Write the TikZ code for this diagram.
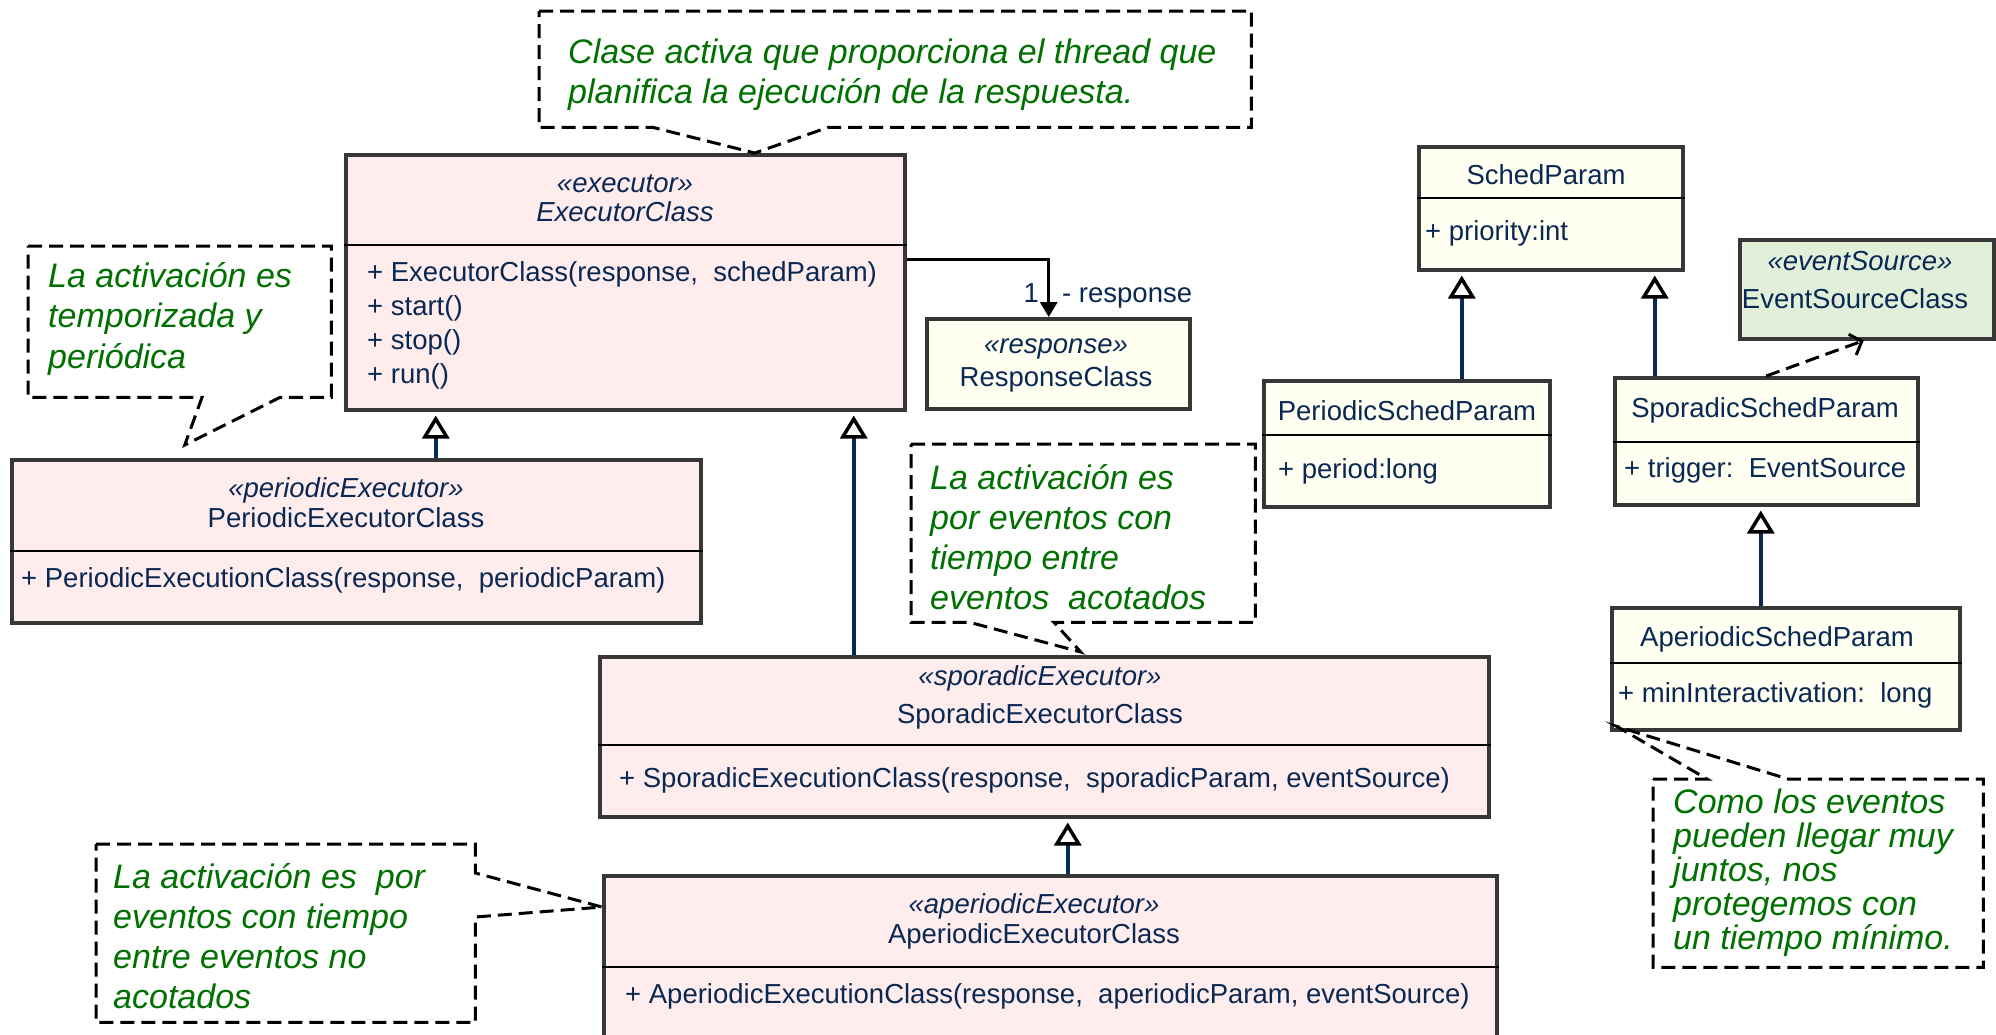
\documentclass[tikz,border=0pt]{standalone}
\usepackage{fontspec}
\setmainfont{Liberation Sans}
\usetikzlibrary{arrows.meta}

\definecolor{ink}{RGB}{10,40,84}
\definecolor{notegreen}{RGB}{0,112,0}
\definecolor{execfill}{RGB}{255,237,237}
\definecolor{paramfill}{RGB}{255,255,242}
\definecolor{srcfill}{RGB}{226,240,217}
\definecolor{boxline}{RGB}{55,55,55}

\begin{document}
\begin{tikzpicture}[x=1pt,y=-1pt,
  classbox/.style={draw=boxline, line width=3.5pt, inner sep=0pt, anchor=north west},
  execbox/.style={classbox, fill=execfill},
  parambox/.style={classbox, fill=paramfill},
  srcbox/.style={classbox, fill=srcfill},
  divider/.style={draw=black, line width=2pt},
  txt/.style={inner sep=0pt, text=ink, font=\fontsize{27.5}{34}\selectfont},
  stereo/.style={txt, font=\fontsize{27.5}{34}\selectfont\itshape},
  notetext/.style={inner sep=0pt, anchor=base west, text=notegreen, font=\fontsize{34}{40}\selectfont\itshape},
  noteframe/.style={inner sep=0pt, anchor=north west},
  callout/.style={draw=black, line width=3pt, dash pattern=on 14pt off 7pt},
  generalization/.style={draw=ink, line width=4pt, shorten >=4pt,
    -{Triangle[open, length=23pt, width=27pt, line width=3.5pt, color=black]}},
  association/.style={draw=black, line width=3pt, -{Triangle[length=15pt, width=17pt]}},
  dependency/.style={draw=black, line width=3pt, dash pattern=on 14pt off 7pt,
    -{Straight Barb[length=10pt, width=22pt, line width=3pt]}},
]
\useasboundingbox (0,0) rectangle (1996,1034);
\clip (0,0) rectangle (1996,1034);
\fill[white] (0,0) rectangle (1996,1034);

% ---------- executor classes ----------
\node[execbox, minimum width=559pt, minimum height=255pt] (exec) at (344,153) {};
\draw[divider] ([yshift=-92pt]exec.north west) -- ([yshift=-92pt]exec.north east);
\node[stereo, anchor=base] (exec-st) at (625,192) {«executor»};
\node[stereo, anchor=base] (exec-nm) at (625,221) {ExecutorClass};
\node[txt, anchor=base west] (exec-op1) at (367,281) {+ ExecutorClass(response,\ \ schedParam)};
\node[txt, anchor=base west] (exec-op2) at (367,315) {+ start()};
\node[txt, anchor=base west] (exec-op3) at (367,349) {+ stop()};
\node[txt, anchor=base west] (exec-op4) at (367,383) {+ run()};

\node[parambox, minimum width=263pt, minimum height=90pt] (resp) at (925,317) {};
\node[stereo, anchor=base] (resp-st) at (1056,353) {«response»};
\node[txt, anchor=base] (resp-nm) at (1056,386) {ResponseClass};

\node[execbox, minimum width=689pt, minimum height=163pt] (per) at (10,458) {};
\draw[divider] ([yshift=-93pt]per.north west) -- ([yshift=-93pt]per.north east);
\node[stereo, anchor=base] (per-st) at (346,497) {«periodicExecutor»};
\node[txt, anchor=base] (per-nm) at (346,527) {PeriodicExecutorClass};
\node[txt, anchor=base west] (per-op) at (21,587) {+ PeriodicExecutionClass(response,\ \ periodicParam)};

\node[execbox, minimum width=889pt, minimum height=160pt] (spor) at (598,655) {};
\draw[divider] ([yshift=-90pt]spor.north west) -- ([yshift=-90pt]spor.north east);
\node[stereo, anchor=base] (spor-st) at (1040,685) {«sporadicExecutor»};
\node[txt, anchor=base] (spor-nm) at (1040,723) {SporadicExecutorClass};
\node[txt, anchor=base west] (spor-op) at (619,787) {+ SporadicExecutionClass(response,\ \ sporadicParam, eventSource)};

\node[execbox, minimum width=893pt, minimum height=180pt] (aper) at (602,874) {};
\draw[divider] ([yshift=-93pt]aper.north west) -- ([yshift=-93pt]aper.north east);
\node[stereo, anchor=base] (aper-st) at (1034,913) {«aperiodicExecutor»};
\node[txt, anchor=base] (aper-nm) at (1034,943) {AperiodicExecutorClass};
\node[txt, anchor=base west] (aper-op) at (625,1003) {+ AperiodicExecutionClass(response,\ \ aperiodicParam, eventSource)};

% ---------- scheduling parameters ----------
\node[parambox, minimum width=264pt, minimum height=123pt] (sched) at (1417,145) {};
\draw[divider] ([yshift=-53pt]sched.north west) -- ([yshift=-53pt]sched.north east);
\node[txt, anchor=base] (sched-nm) at (1546,184) {SchedParam};
\node[txt, anchor=base west] (sched-at) at (1425,240) {+ priority:int};

\node[parambox, minimum width=286pt, minimum height=126pt] (psched) at (1262,379) {};
\draw[divider] ([yshift=-56pt]psched.north west) -- ([yshift=-56pt]psched.north east);
\node[txt, anchor=base] (psched-nm) at (1407,420) {PeriodicSchedParam};
\node[txt, anchor=base west] (psched-at) at (1278,478) {+ period:long};

\node[parambox, minimum width=303pt, minimum height=127pt] (ssched) at (1613,376) {};
\draw[divider] ([yshift=-66pt]ssched.north west) -- ([yshift=-66pt]ssched.north east);
\node[txt, anchor=base] (ssched-nm) at (1765,417) {SporadicSchedParam};
\node[txt, anchor=base west] (ssched-at) at (1624,477) {+ trigger:\ \ EventSource};

\node[srcbox, minimum width=254pt, minimum height=99pt] (esrc) at (1738,238) {};
\node[stereo, anchor=base] (esrc-st) at (1860,270) {«eventSource»};
\node[txt, anchor=base] (esrc-nm) at (1855,308) {EventSourceClass};

\node[parambox, minimum width=348pt, minimum height=122pt] (asched) at (1610,606) {};
\draw[divider] ([yshift=-57pt]asched.north west) -- ([yshift=-57pt]asched.north east);
\node[txt, anchor=base] (asched-nm) at (1777,646) {AperiodicSchedParam};
\node[txt, anchor=base west] (asched-at) at (1618,702) {+ minInteractivation:\ \ long};

% ---------- relations ----------
\draw[generalization] ([xshift=79.5pt]per.north) -- ([xshift=79.5pt]per.north |- exec.south);
\draw[generalization] ([xshift=-190.5pt]spor.north) -- ([xshift=-190.5pt]spor.north |- exec.south);
\draw[generalization] ([xshift=17.5pt]aper.north) -- ([xshift=17.5pt]aper.north |- spor.south);
\draw[generalization] ([xshift=55pt]psched.north) -- ([xshift=55pt]psched.north |- sched.south);
\draw[generalization] ([xshift=-111.5pt]ssched.north) -- ([xshift=-111.5pt]ssched.north |- sched.south);
\draw[generalization] ([xshift=-25pt]asched.north) -- ([xshift=-25pt]asched.north |- ssched.south);

\draw[association] ([yshift=22.5pt]exec.east) -| ([xshift=-9.5pt]resp.north);
\node[txt, anchor=base east] (mult) at (1039,302) {1};
\node[txt, anchor=base west] (role) at (1062,302) {- response};

\draw[dependency] (ssched.north) -- ([xshift=-3pt]esrc.south);

% ---------- notes ----------
\node[noteframe, minimum width=712pt, minimum height=116pt] (n1) at (539,11) {};
\draw[callout] (n1.north west) -- (n1.north east) -- (n1.south east)
  -- ([xshift=289pt]n1.south west) -- ([xshift=129.5pt]exec.north)
  -- ([xshift=114pt]n1.south west) -- (n1.south west) -- cycle;
\foreach \txtline [count=\i from 0] in {Clase activa que proporciona el thread que, planifica la ejecución de la respuesta.}
  \node[notetext] (n1-\i) at (568,{63+40*\i}) {\txtline};

\node[noteframe, minimum width=303pt, minimum height=151pt] (n2) at (28,246) {};
\draw[callout] (n2.north west) -- (n2.north east) -- (n2.south east)
  -- ([xshift=252pt]n2.south west) -- ([xshift=-171.5pt, yshift=13pt]per.north)
  -- ([xshift=174pt]n2.south west) -- (n2.south west) -- cycle;
\foreach \txtline [count=\i from 0] in {La activación es, temporizada y, periódica}
  \node[notetext] (n2-\i) at (48,{287+40.5*\i}) {\txtline};

\node[noteframe, minimum width=344pt, minimum height=178pt] (n3) at (911,444) {};
\draw[callout] (n3.north west) -- (n3.north east) -- (n3.south east)
  -- ([xshift=143pt]n3.south west) -- ([xshift=36.5pt, yshift=3pt]spor.north)
  -- ([xshift=59pt]n3.south west) -- (n3.south west) -- cycle;
\foreach \txtline [count=\i from 0] in {La activación es, por eventos con, tiempo entre, eventos\ \ acotados}
  \node[notetext] (n3-\i) at (930,{489+40*\i}) {\txtline};

\node[noteframe, minimum width=379pt, minimum height=178pt] (n4) at (96,844) {};
\draw[callout] (n4.north west) -- (n4.north east) -- ([yshift=-29pt]n4.north east)
  -- ([yshift=-33pt]aper.north west) -- ([yshift=-73pt]n4.north east)
  -- (n4.south east) -- (n4.south west) -- cycle;
\foreach \txtline [count=\i from 0] in {La activación es\ \ por, eventos con tiempo, entre eventos no, acotados}
  \node[notetext] (n4-\i) at (113,{888+40*\i}) {\txtline};

\node[noteframe, minimum width=330pt, minimum height=188pt] (n5) at (1653,779) {};
\draw[callout] (n5.north west) -- ([xshift=54pt]n5.north west)
  -- ([xshift=7pt, yshift=5pt]asched.south west) -- ([xshift=135pt]n5.north west)
  -- (n5.north east) -- (n5.south east) -- (n5.south west) -- cycle;
\foreach \txtline [count=\i from 0] in {Como los eventos, pueden llegar muy, {juntos, nos}, protegemos con, un tiempo mínimo.}
  \node[notetext] (n5-\i) at (1673,{813+34*\i}) {\txtline};

\end{tikzpicture}
\end{document}
